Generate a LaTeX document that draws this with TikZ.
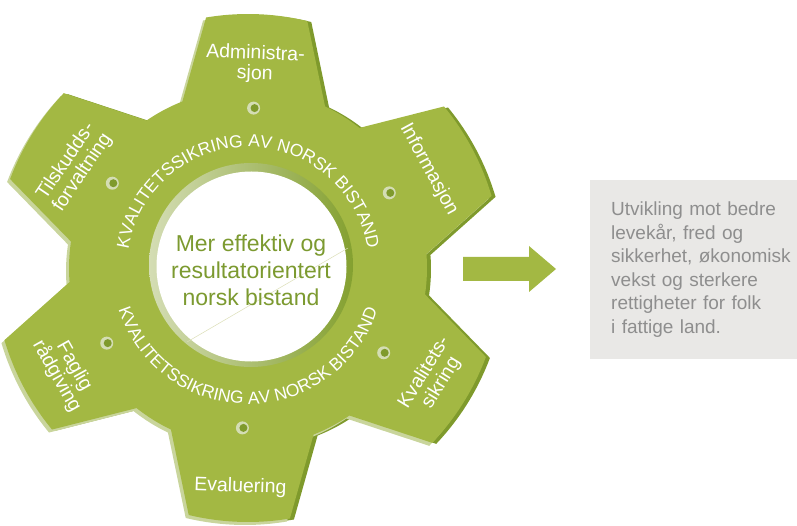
\documentclass[tikz,border=0pt]{standalone}
\usepackage{fontspec}
\setmainfont{Liberation Sans}
\usetikzlibrary{calc,decorations.text}

\definecolor{gear}{HTML}{A3B843}
\definecolor{geardark}{HTML}{7F9A2C}
\definecolor{gearlight}{HTML}{C9D59C}
\definecolor{ringdark}{HTML}{84A030}
\definecolor{ringlight}{HTML}{D4DDB4}
\definecolor{midtext}{HTML}{7C9A30}
\definecolor{boxgrey}{HTML}{E9E8E6}
\definecolor{boxtext}{HTML}{8E8E8E}
\definecolor{seam}{HTML}{DCDFB8}

\newcommand{\arcfont}{\fontsize{17.5}{17.5}\selectfont}

\tikzset{
  toothlabel/.style={text=white, align=center, inner sep=0pt,
    font=\fontsize{19.5}{20}\selectfont},
  midlabel/.style={text=midtext, align=center, inner sep=0pt,
    font=\fontsize{23}{27}\selectfont},
  goalbox/.style={fill=boxgrey, text=boxtext, align=left, text width=190pt,
    inner xsep=21pt, inner ysep=0pt, minimum height=179pt,
    font=\fontsize{19}{23.5}\selectfont},
  arctext/.style={decorate, decoration={text along path, text align=center,
    text color=white, text={|\arcfont|KVALITETSSIKRING AV NORSK BISTAND}}}
}

\begin{document}
\begin{tikzpicture}[x=1pt,y=1pt]
  \useasboundingbox (0,0) rectangle (797,525);
  \coordinate (C) at (248,257);
  \coordinate (H) at (251,260);
  \coordinate (seamA) at (187,183);
  \coordinate (seamB) at (348,277);
  \coordinate (arr) at (463,256);

  % gear, with its two edge colours under it
  \begin{scope}[shift={(C)}]
    \foreach \dx/\dy/\col in {4/-1/geardark, -3/-3/gearlight, 0/0/gear} {
      \fill[\col, shift={(\dx,\dy)}] (4.5:179)
        \foreach \a in {28,88,148,208,268,328} {
          -- ({\a-11.5}:254) arc[start angle=\a-11.5, end angle=\a+11.5, radius=254]
          -- ({\a+23.5}:179) arc[start angle=\a+23.5, end angle=\a+36.5, radius=179]
        } -- cycle;
    }
  \end{scope}

  % hole
  \shade[left color=ringlight, right color=ringdark] (H) circle (102);
  \fill[white] ($(H)+(0.5,-1.5)$) circle (95);
  \draw[seam, line width=0.5pt] (seamA) -- (seamB);

  \begin{scope}[shift={(C)}]
    \foreach \a in {28,88,148,208,268,328} {
      \fill[ringlight] (\a:160) circle (6.5);
      \fill[geardark] ($(\a:160)+(1,0)$) circle (4);
    }
    \path[arctext] (180:121) arc[start angle=180, end angle=0, radius=121];
    \path[arctext] (180:136) arc[start angle=180, end angle=360, radius=136];

    \node[toothlabel, rotate=-2] (admin) at (88:204) {Administra-\\sjon};
    \node[toothlabel, rotate=-61.4] (info) at (28.6:206) {Informasjon};
    \node[toothlabel, rotate=58.5] (kval) at (-30.7:215) {Kvalitets-\\sikring};
    \node[toothlabel, rotate=-2] (eval) at (-92:219) {Evaluering};
    \node[toothlabel, rotate=-60.5] (faglig) at (-150.5:210) {Faglig\\rådgiving};
    \node[toothlabel, rotate=56] (tilsk) at (149.8:201) {Tilskudds-\\forvaltning};
  \end{scope}

  \node[midlabel] (mid) at (251,255) {Mer effektiv og\\resultatorientert\\norsk bistand};

  % arrow to the goal
  \fill[gear] ($(arr)+(0,12)$) -- ($(arr)+(66,12)$) -- ($(arr)+(66,23)$)
    -- ($(arr)+(93,0)$) -- ($(arr)+(66,-23)$) -- ($(arr)+(66,-12)$)
    -- ($(arr)+(0,-12)$) -- cycle;

  \node[goalbox, anchor=north west] (goal) at (590,345)
    {Utvikling mot bedre\\levekår, fred og\\sikkerhet, økonomisk\\vekst og sterkere\\rettigheter for folk\\i fattige land.};
\end{tikzpicture}
\end{document}
